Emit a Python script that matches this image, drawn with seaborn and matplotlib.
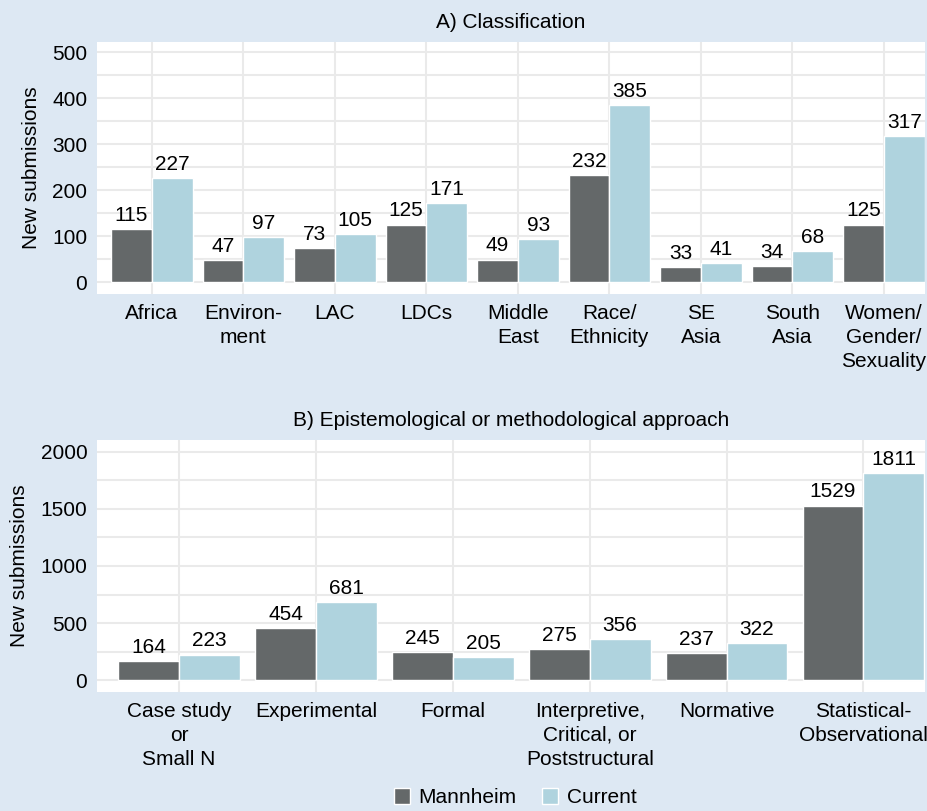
import numpy as np
import pandas as pd
import seaborn as sns
import matplotlib.pyplot as plt
from matplotlib.ticker import MultipleLocator
from matplotlib.patches import Patch

# panel A
classes = ["Africa", "Environ-\nment", "LAC", "LDCs", "Middle\nEast", "Race/\nEthnicity",
           "SE\nAsia", "South\nAsia", "Women/\nGender/\nSexuality"]
mannheim_a = [115, 47, 73, 125, 49, 232, 33, 34, 125]
current_a = [227, 97, 105, 171, 93, 385, 41, 68, 317]

# panel B
approaches = ["Case study\nor\nSmall N", "Experimental", "Formal",
              "Interpretive,\nCritical, or\nPoststructural", "Normative",
              "Statistical-\nObservational"]
mannheim_b = [164, 454, 245, 275, 237, 1529]
current_b = [223, 681, 205, 356, 322, 1811]

series = ["Mannheim", "Current"]
colors = ["#646869", "#afd3de"]
bg = "#dde8f3"
fs = 15

sns.set_theme(style="white")
plt.rcParams['font.family'] = ['Liberation Sans', 'DejaVu Sans']
plt.rcParams['text.color'] = 'black'
plt.rcParams['xtick.color'] = 'black'
plt.rcParams['ytick.color'] = 'black'
plt.rcParams['axes.labelcolor'] = 'black'

def long_df(cats, a, b):
    return pd.DataFrame({"cat": cats * 2, "n": a + b,
                         "series": [series[0]] * len(cats) + [series[1]] * len(cats)})

fig = plt.figure(figsize=(9.28, 8.11), dpi=100, facecolor=bg)
axA = fig.add_axes([0.1045, 0.6375, 0.8923, 0.3105])
axB = fig.add_axes([0.1045, 0.1467, 0.8923, 0.3108])

def panel(ax, cats, a, b, title, ylim, major, minor, xr):
    df = long_df(cats, a, b)
    sns.barplot(data=df, x="cat", y="n", hue="series", order=cats, hue_order=series,
                palette=colors, width=0.89, gap=0, saturation=1, legend=False, ax=ax,
                zorder=3)
    for c in ax.containers:
        ax.bar_label(c, fontsize=fs, padding=3, color="black")
    ax.set_facecolor("white")
    ax.set_xlim(-0.6, xr)
    ax.yaxis.set_major_locator(MultipleLocator(major))
    ax.yaxis.set_minor_locator(MultipleLocator(minor))
    ax.set_ylim(*ylim)
    ax.grid(True, which="both", axis="y", color="#eaeaea", linewidth=1.5, zorder=0)
    for i in range(len(cats)):
        ax.axvline(i, color="#eaeaea", linewidth=1.5, zorder=0)
    ax.set_axisbelow(True)
    for s in ax.spines.values():
        s.set_visible(False)
    ax.tick_params(axis="both", length=0, labelsize=fs, pad=7)
    for t in ax.get_xticklabels():
        t.set_linespacing(1.35)
    ax.set_xlabel("")
    ax.set_ylabel("New submissions", fontsize=fs, labelpad=8)
    ax.set_title(title, fontsize=fs, pad=10)

panel(axA, classes, mannheim_a, current_a, "A) Classification", (-26, 522), 100, 50, 8.45)
panel(axB, approaches, mannheim_b, current_b,
      "B) Epistemological or methodological approach", (-105, 2105), 500, 250, 5.45)
axA.set_yticks([0, 100, 200, 300, 400, 500])
axB.set_yticks([0, 500, 1000, 1500, 2000])

handles = [Patch(facecolor=c, label=s) for c, s in zip(colors, series)]
fig.legend(handles=handles, loc="lower center", bbox_to_anchor=(0.555, -0.018), ncol=2,
           frameon=False, fontsize=fs, handlelength=0.8, handleheight=0.8,
           handletextpad=0.4, columnspacing=1.2)

fig.savefig("out.png", dpi=100, facecolor=bg)
